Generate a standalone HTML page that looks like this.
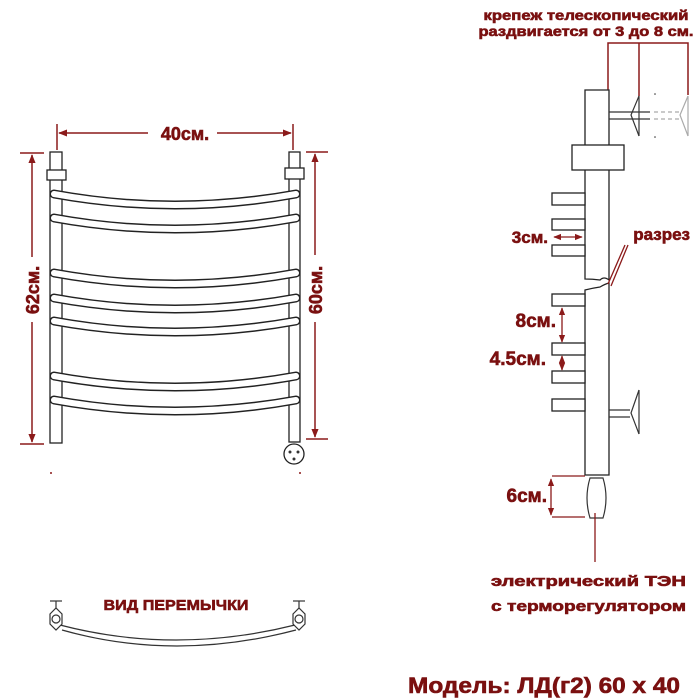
<!DOCTYPE html>
<html><head><meta charset="utf-8"><style>
html,body{margin:0;padding:0;background:#fff;}
svg{display:block;}
text{font-family:"Liberation Sans",sans-serif;font-weight:bold;fill:#7a1010;stroke:#7a1010;stroke-width:0.6;}
</style></head><body>
<svg width="700" height="700" viewBox="0 0 700 700" xmlns="http://www.w3.org/2000/svg">
<defs>
<marker id="a" viewBox="0 0 10 10" refX="9" refY="5" markerWidth="6" markerHeight="6" orient="auto-start-reverse"><path d="M0,1 L10,5 L0,9 Z" fill="#8b1a1a"/></marker>
</defs>
<g stroke="#8b1a1a" stroke-width="1.5" fill="none">
<line x1="57" y1="124" x2="57" y2="150"/><line x1="293" y1="124" x2="293" y2="150"/>
<line x1="59" y1="133" x2="148" y2="133" marker-start="url(#a)"/>
<line x1="217" y1="133" x2="291" y2="133" marker-end="url(#a)"/>
<line x1="20" y1="153" x2="44" y2="153"/><line x1="20" y1="444" x2="44" y2="444"/>
<line x1="32" y1="155" x2="32" y2="257" marker-start="url(#a)"/>
<line x1="32" y1="322" x2="32" y2="442" marker-end="url(#a)"/>
<line x1="306" y1="152" x2="328" y2="152"/><line x1="306" y1="439" x2="328" y2="439"/>
<line x1="315" y1="154" x2="315" y2="255" marker-start="url(#a)"/>
<line x1="315" y1="322" x2="315" y2="437" marker-end="url(#a)"/>
</g>
<text x="185" y="140" font-size="18" text-anchor="middle">40см.</text>
<text x="0" y="0" font-size="18" text-anchor="middle" transform="translate(39,290) rotate(-90)">62см.</text>
<text x="0" y="0" font-size="18" text-anchor="middle" transform="translate(322,290) rotate(-90)">60см.</text>
<g stroke="#222" stroke-width="1.3" fill="#fff">
<rect x="50" y="152" width="12" height="291"/>
<rect x="289" y="152" width="11" height="290"/>
<rect x="47" y="170" width="19" height="10"/>
<rect x="285" y="168" width="19" height="11"/>
</g>
<g fill="none" stroke-linecap="round">
<g stroke="#222" stroke-width="9">
<path d="M54,194 Q175,216 296,194"/><path d="M54,218 Q175,240 296,218"/>
<path d="M54,273 Q175,295 296,273"/><path d="M54,298 Q175,320 296,298"/>
<path d="M54,321 Q175,343 296,321"/><path d="M54,376 Q175,398 296,376"/>
<path d="M54,400 Q175,422 296,400"/>
</g>
<g stroke="#fff" stroke-width="6">
<path d="M54,194 Q175,216 296,194"/><path d="M54,218 Q175,240 296,218"/>
<path d="M54,273 Q175,295 296,273"/><path d="M54,298 Q175,320 296,298"/>
<path d="M54,321 Q175,343 296,321"/><path d="M54,376 Q175,398 296,376"/>
<path d="M54,400 Q175,422 296,400"/>
</g>
</g>
<circle cx="294" cy="454" r="10" fill="#fff" stroke="#222" stroke-width="1.3"/>
<circle cx="290" cy="452" r="1.5" fill="#333"/><circle cx="298" cy="452" r="1.5" fill="#333"/><circle cx="294" cy="459" r="1.5" fill="#333"/>
<circle cx="51" cy="473" r="1" fill="#8b1a1a"/><circle cx="300" cy="473" r="1" fill="#8b1a1a"/>
<g fill="none" stroke="#333" stroke-width="1.2">
<path d="M60,625 Q175,655 295,625"/><path d="M62,630 Q175,662 296,630"/>
<line x1="50" y1="601" x2="62" y2="601"/><line x1="56" y1="601" x2="56" y2="608"/>
<polygon points="50,614 56,608 62,614 62,624 56,630 50,624" fill="#fff"/>
<circle cx="56" cy="619" r="4"/>
<line x1="293" y1="601" x2="305" y2="601"/><line x1="299" y1="601" x2="299" y2="608"/>
<polygon points="293,614 299,608 305,614 305,624 299,630 293,624" fill="#fff"/>
<circle cx="299" cy="619" r="4"/>
</g>
<text x="176" y="610" font-size="15" text-anchor="middle" textLength="145" lengthAdjust="spacingAndGlyphs">ВИД ПЕРЕМЫЧКИ</text>
<text x="586" y="20" font-size="14" text-anchor="middle" textLength="205" lengthAdjust="spacingAndGlyphs">крепеж телескопический</text>
<text x="586" y="36" font-size="14" text-anchor="middle" textLength="215" lengthAdjust="spacingAndGlyphs">раздвигается от 3 до 8 см.</text>
<g stroke="#8b1a1a" stroke-width="1.5" fill="none">
<polyline points="608,90 608,43 688,43 688,95"/>
<line x1="639" y1="43" x2="639" y2="96"/>
</g>
<g stroke="#222" stroke-width="1.3" fill="#fff">
<path d="M585,90 H609 V280 Q604,276 600,280 Q593,279 585,279 Z"/>
<path d="M585,290 Q593,288 600,287 Q605,284 609,283 V475 H585 Z"/>
<rect x="572" y="145" width="52" height="25"/>
<rect x="552" y="193" width="33" height="12"/><rect x="552" y="219" width="33" height="11"/><rect x="552" y="245" width="33" height="11"/>
<rect x="552" y="294" width="33" height="12"/><rect x="552" y="343" width="33" height="12"/><rect x="552" y="371" width="33" height="12"/><rect x="552" y="399" width="33" height="12"/>
</g>
<g stroke="#333" stroke-width="1.2" fill="none">
<line x1="609" y1="112" x2="650" y2="112"/><line x1="609" y1="119" x2="650" y2="119"/>
<polyline points="639,96 631,115 639,136"/><line x1="639" y1="96" x2="639" y2="136"/>
<line x1="609" y1="410" x2="630" y2="410"/><line x1="609" y1="417" x2="630" y2="417"/>
<polyline points="639,390 631,413 639,434"/><line x1="639" y1="390" x2="639" y2="434"/>
<path d="M590,478 H603 Q609,498 603,518 H590 Q584,498 590,478 Z"/>
</g>
<g stroke="#aaa" stroke-width="1.2" fill="none" stroke-dasharray="4,3">
<line x1="654" y1="112" x2="680" y2="112"/><line x1="654" y1="119" x2="680" y2="119"/>
</g>
<g stroke="#aaa" stroke-width="1.2" fill="none">
<polyline points="688,96 680,115 688,136"/><line x1="688" y1="96" x2="688" y2="136"/>
</g>
<circle cx="655" cy="94" r="0.8" fill="#333"/><circle cx="655" cy="137" r="0.8" fill="#333"/>
<g stroke="#8b1a1a" stroke-width="1.3" fill="none">
<line x1="554" y1="237" x2="582" y2="237" marker-start="url(#a)" marker-end="url(#a)"/>
<line x1="625" y1="245" x2="608" y2="284"/><line x1="628" y1="245" x2="611" y2="286"/>
<line x1="562" y1="308" x2="562" y2="342" marker-start="url(#a)" marker-end="url(#a)"/>
<line x1="562" y1="356" x2="562" y2="370" marker-start="url(#a)" marker-end="url(#a)"/>
<line x1="552" y1="476" x2="585" y2="476"/><line x1="552" y1="517" x2="585" y2="517"/>
<line x1="551" y1="479" x2="551" y2="515" marker-start="url(#a)" marker-end="url(#a)"/>
<line x1="595" y1="513" x2="595" y2="562"/>
</g>
<text x="548" y="243" font-size="17" text-anchor="end">3см.</text>
<text x="690" y="240" font-size="17" text-anchor="end">разрез</text>
<text x="556" y="327" font-size="19" text-anchor="end">8см.</text>
<text x="546" y="365" font-size="19" text-anchor="end">4.5см.</text>
<text x="547" y="502" font-size="19" text-anchor="end">6см.</text>
<text x="491" y="586" font-size="15" textLength="195" lengthAdjust="spacingAndGlyphs">электрический   ТЭН</text>
<text x="491" y="611" font-size="15" textLength="195" lengthAdjust="spacingAndGlyphs">с терморегулятором</text>
<text x="408" y="693" font-size="22" textLength="272" lengthAdjust="spacingAndGlyphs">Модель: ЛД(г2) 60 х 40</text>
</svg>
</body></html>
